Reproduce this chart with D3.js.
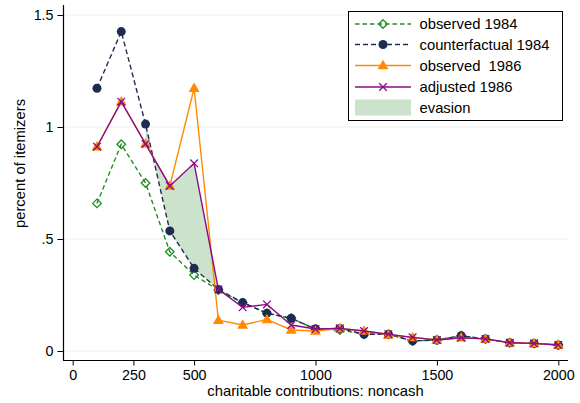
<!DOCTYPE html>
<html><head><meta charset="utf-8">
<script src="https://cdn.jsdelivr.net/npm/d3@7"></script>
<style>
html,body{margin:0;padding:0;background:#fff;}
svg{display:block;font-family:"Liberation Sans",Arial,Helvetica,sans-serif;}
</style></head>
<body>
<svg id="chart" width="580" height="403"></svg>
<script>
const contrib = [100,200,300,400,500,600,700,800,900,1000,1100,1200,1300,1400,1500,1600,1700,1800,1900,2000];
const observed1984 = [0.659,0.923,0.750,0.443,0.339,0.272,0.215,0.168,0.146,0.098,0.094,0.075,0.075,0.045,0.049,0.068,0.054,0.037,0.034,0.027];
const counterfactual1984 = [1.173,1.426,1.013,0.536,0.369,0.275,0.216,0.169,0.146,0.098,0.101,0.075,0.075,0.045,0.049,0.068,0.054,0.037,0.034,0.027];
const observed1986 = [0.912,1.113,0.926,0.737,1.173,0.138,0.116,0.141,0.094,0.089,0.101,0.089,0.072,0.061,0.049,0.059,0.054,0.037,0.034,0.027];
const adjusted1986 = [0.912,1.113,0.924,0.737,0.838,0.275,0.195,0.208,0.116,0.098,0.101,0.089,0.075,0.061,0.049,0.059,0.054,0.037,0.034,0.027];
const evasionRange = [300,600];
const xTicks = [0,250,500,1000,1500,2000];
const yTicks = [0,0.5,1,1.5];
const yTickLabels = ["0",".5","1","1.5"];
const seriesNames = ["observed 1984","counterfactual 1984","observed  1986","adjusted 1986","evasion"];

const svg = d3.select("#chart");
const x = d3.scaleLinear().domain([0,2000]).range([72.7,558.3]);
const y = d3.scaleLinear().domain([0,1.5]).range([351,15]);
const plotL = 63, plotR = 568, plotT = 5, plotB = 360;

const C = {green:"#1f8f1f", navy:"#1e2d4f", orange:"#ff8a00", purple:"#8a0a8a", fill:"#cbe2cb"};

// gridlines
svg.append("g").selectAll("line").data(yTicks).join("line")
  .attr("x1",plotL).attr("x2",plotR)
  .attr("y1",d=>y(d)).attr("y2",d=>y(d))
  .attr("stroke","#e9f0f1").attr("stroke-width",1.2);

// evasion area
const evIdx = contrib.map((c,i)=>i).filter(i=>contrib[i]>=evasionRange[0]&&contrib[i]<=evasionRange[1]);
svg.append("path").datum(evIdx)
  .attr("d", d3.area().x(i=>x(contrib[i])).y0(i=>y(counterfactual1984[i])).y1(i=>y(adjusted1986[i])))
  .attr("fill",C.fill).attr("stroke","none");

const line = vals => d3.line().x((d,i)=>x(contrib[i])).y(d=>y(d))(vals);

function diamond(g, cx, cy, color){
  const r=4.3;
  g.append("path").attr("d",`M${cx},${cy-r}L${cx+r},${cy}L${cx},${cy+r}L${cx-r},${cy}Z`)
   .attr("fill","none").attr("stroke",color).attr("stroke-width",1.3);
}
function circle(g,cx,cy,color){
  g.append("circle").attr("cx",cx).attr("cy",cy).attr("r",4.5).attr("fill",color);
}
function triangle(g,cx,cy,color){
  const h=9.5, w=11;
  g.append("path").attr("d",`M${cx},${cy-h*0.6}L${cx+w/2},${cy+h*0.4}L${cx-w/2},${cy+h*0.4}Z`).attr("fill",color);
}
function cross(g,cx,cy,color){
  const r=3.8;
  g.append("path").attr("d",`M${cx-r},${cy-r}L${cx+r},${cy+r}M${cx-r},${cy+r}L${cx+r},${cy-r}`)
   .attr("stroke",color).attr("stroke-width",1.3).attr("fill","none");
}

const series = [
  {vals:observed1984, color:C.green, dash:"4.5,3", marker:diamond},
  {vals:counterfactual1984, color:C.navy, dash:"5,3", marker:circle},
  {vals:observed1986, color:C.orange, dash:null, marker:triangle},
  {vals:adjusted1986, color:C.purple, dash:null, marker:cross}
];
series.forEach(s=>{
  const g = svg.append("g");
  g.append("path").attr("d",line(s.vals)).attr("fill","none")
    .attr("stroke",s.color).attr("stroke-width",1.4)
    .attr("stroke-dasharray",s.dash);
  s.vals.forEach((v,i)=>s.marker(g,x(contrib[i]),y(v),s.color));
});

// axes
const ax = svg.append("g").attr("transform",`translate(0,${plotB})`)
  .call(d3.axisBottom(x).tickValues(xTicks).tickSize(5.5).tickPadding(5).tickFormat(d3.format("d")));
ax.select(".domain").attr("d",`M${plotL},0.5H${plotR}`).attr("stroke","#000").attr("stroke-width",1.2);
ax.selectAll("text").attr("font-size",14.3).attr("fill","#000").attr("font-family","Liberation Sans, Arial, sans-serif").attr("dy","0.63em");

const ay = svg.append("g").attr("transform",`translate(${plotL},0)`)
  .call(d3.axisLeft(y).tickValues(yTicks).tickSize(5.5).tickPadding(4).tickFormat((d,i)=>yTickLabels[i]));
ay.select(".domain").attr("d",`M0.5,${plotT}V${plotB}`).attr("stroke","#000").attr("stroke-width",1.2);
ay.selectAll("text").attr("font-size",14.3).attr("fill","#000").attr("font-family","Liberation Sans, Arial, sans-serif");

svg.append("text").attr("x",315.5).attr("y",396).attr("text-anchor","middle")
  .attr("font-size",14.8).text("charitable contributions: noncash");
svg.append("text").attr("transform","translate(24.5,163.5) rotate(-90)").attr("text-anchor","middle")
  .attr("font-size",14.8).text("percent of itemizers");

// legend
const lg = svg.append("g");
lg.append("rect").attr("x",348.5).attr("y",11.5).attr("width",214).attr("height",109)
  .attr("fill","#fff").attr("stroke","#000").attr("stroke-width",1);
const rowY = [24,44.5,65.5,87,108.3];
series.forEach((s,i)=>{
  lg.append("line").attr("x1",355).attr("x2",411).attr("y1",rowY[i]).attr("y2",rowY[i])
    .attr("stroke",s.color).attr("stroke-width",1.4).attr("stroke-dasharray",s.dash);
  s.marker(lg,383,rowY[i],s.color);
});
lg.append("rect").attr("x",355).attr("y",99.5).attr("width",56).attr("height",16).attr("fill",C.fill);
seriesNames.forEach((n,i)=>{
  lg.append("text").attr("x",419.5).attr("y",rowY[i]).attr("dy","0.35em")
    .attr("font-size",14.8).style("white-space","pre").text(n);
});
</script>
</body></html>
